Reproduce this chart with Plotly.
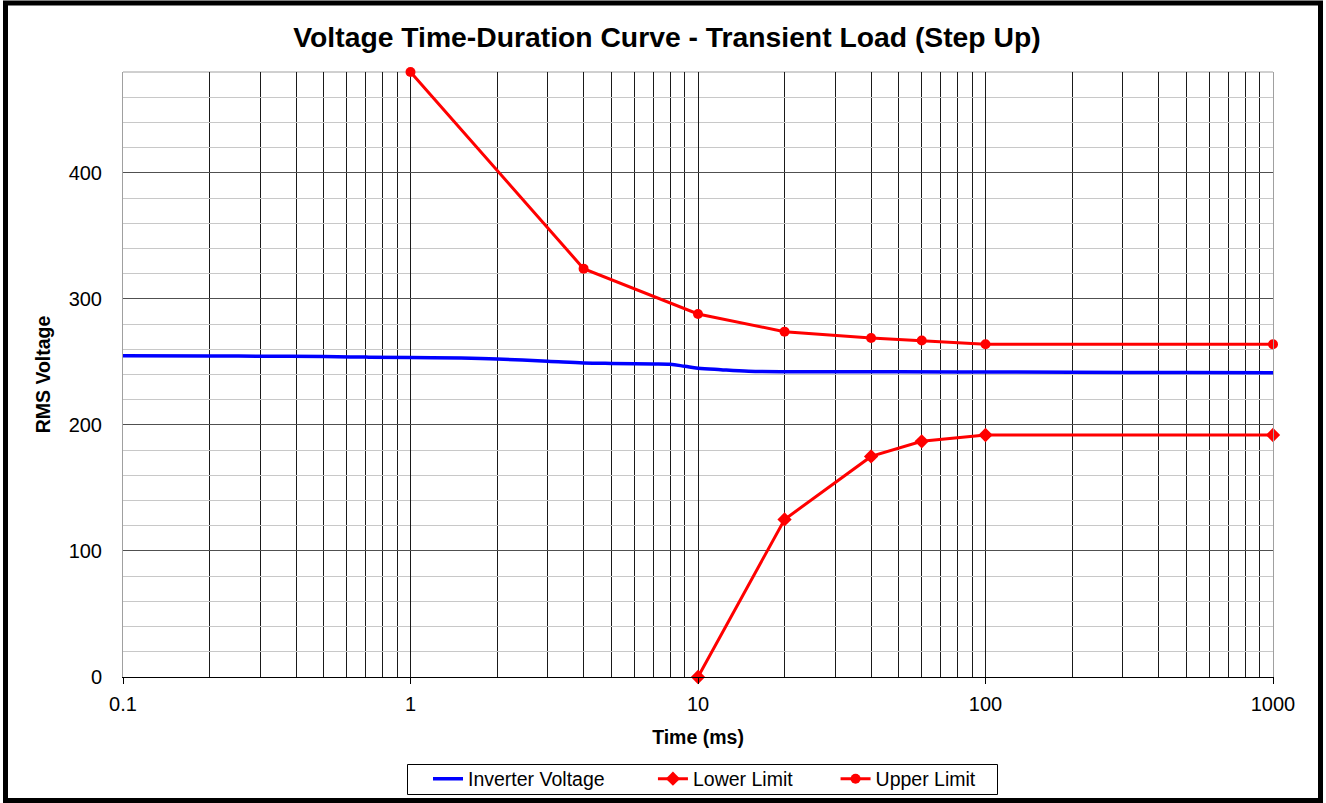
import plotly.graph_objects as go

# values
inv_time = [0.1, 0.2, 0.3, 0.5, 0.7, 1, 1.5, 2, 3, 4, 5, 6, 7, 8, 9, 10, 12, 15, 20, 30, 50, 100, 200, 500, 1000]
inv_volt = [254.8, 254.7, 254.5, 254.2, 253.8, 253.5, 253.0, 252.3, 250.6, 249.2, 248.8, 248.6, 248.4, 248.1,
            246.5, 245.0, 243.8, 242.6, 242.2, 242.2, 242.2, 242.0, 241.8, 241.5, 241.3]

lower_time = [10, 20, 40, 60, 100, 1000]
lower_volt = [0, 125, 175, 187, 192, 192]

upper_time = [1, 4, 10, 20, 40, 60, 100, 1000]
upper_volt = [480, 324, 288, 274, 269, 267, 264, 264]

x_ticks = [0.1, 1, 10, 100, 1000]
x_labels = ['0.1', '1', '10', '100', '1000']
x_minor = [m * d for d in [0.1, 1, 10, 100] for m in range(2, 10)]

font = 'Liberation Sans, Arial, sans-serif'
nb = '\u00a0'

# plot area in pixels: x 123..1273, y 72..677
def px_x(p):
    return (p - 123) / 1150

def px_y(p):
    return (677 - p) / 605

fig = go.Figure()
fig.add_trace(go.Scatter(x=inv_time, y=inv_volt, mode='lines', name='Inverter Voltage' + nb * 8,
                         line=dict(color='#0000ff', width=3.5, shape='spline')))
fig.add_trace(go.Scatter(x=lower_time, y=lower_volt, mode='lines+markers', name='Lower Limit' + nb * 7,
                         line=dict(color='#ff0000', width=3), cliponaxis=False,
                         marker=dict(symbol='diamond', size=11, color='#ff0000')))
fig.add_trace(go.Scatter(x=upper_time, y=upper_volt, mode='lines+markers', name='Upper Limit',
                         line=dict(color='#ff0000', width=3), cliponaxis=False,
                         marker=dict(symbol='circle', size=10, color='#ff0000')))

fig.update_layout(
    width=1326, height=803,
    margin=dict(l=123, r=53, t=72, b=126, autoexpand=False),
    paper_bgcolor='white', plot_bgcolor='white',
    font=dict(family=font, size=20, color='black'),
    title=dict(text='<b>Voltage Time-Duration Curve - Transient Load (Step Up)</b>',
               font=dict(size=28.3), x=0.503, xanchor='center', y=1 - 37 / 803, yanchor='middle'),
    xaxis=dict(type='log', range=[-1, 3], tickvals=x_ticks, ticktext=x_labels,
               ticks='outside', ticklen=6, tickcolor='black', ticklabelstandoff=3,
               showline=True, linecolor='black', linewidth=1, automargin=False,
               showgrid=True, gridcolor='#1a1a1a', gridwidth=1,
               minor=dict(tickvals=x_minor, showgrid=True, gridcolor='#1a1a1a', gridwidth=1, ticks=''),
               title=dict(text='<b>Time (ms)</b>', font=dict(size=19.5), standoff=16),
               zeroline=False),
    yaxis=dict(range=[0, 480], dtick=100, ticks='', ticklabelstandoff=16, automargin=False,
               showline=True, linecolor='#a0a0a0', mirror=True,
               showgrid=True, gridcolor='#505050', gridwidth=1,
               minor=dict(dtick=20, showgrid=True, gridcolor='#c8c8c8', gridwidth=1),
               title=dict(text='<b>RMS Voltage</b>', font=dict(size=19.5), standoff=12),
               zeroline=False),
    # value axis crossing the time axis at 1 ms
    yaxis2=dict(overlaying='y', anchor='free', position=0.25, side='left', range=[0, 480], dtick=100,
                ticks='outside', ticklen=7, tickcolor='black', showticklabels=False, automargin=False,
                showline=True, linecolor='black', showgrid=False, zeroline=False),
    legend=dict(orientation='h', x=px_x(428), xanchor='left', y=px_y(779), yanchor='middle',
                borderwidth=0, bgcolor='rgba(0,0,0,0)', font=dict(size=19.5),
                itemwidth=30, tracegroupgap=0),
    showlegend=True,
)

# top edge of the plot area
fig.add_shape(type='line', xref='paper', yref='paper', x0=0, x1=1, y0=1, y1=1,
              line=dict(color='#a0a0a0', width=1), layer='between')
# legend box
fig.add_shape(type='rect', xref='paper', yref='paper',
              x0=px_x(407.5), x1=px_x(997.5), y0=px_y(794.5), y1=px_y(764.5),
              line=dict(color='black', width=1), fillcolor='white', layer='below')
# chart frame
fig.add_shape(type='rect', xref='paper', yref='paper',
              x0=px_x(5.5), x1=px_x(1320.5), y0=px_y(800.5), y1=px_y(3),
              line=dict(color='black', width=5), layer='above')

fig.write_html('out.html', config={'displayModeBar': False},
               post_script="document.body.style.margin='0';")
